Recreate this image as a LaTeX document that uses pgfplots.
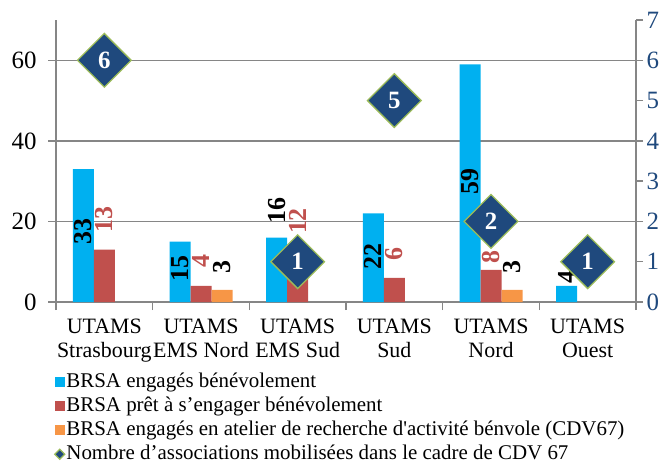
\documentclass[border=0pt]{standalone}
\usepackage{fontspec}
\setmainfont{Liberation Serif}
\usepackage{pgfplots}
\usepackage{pgfplotstable}
\pgfplotsset{compat=1.18}
\pgfplotsset{/pgf/number format/assume math mode=true}

\definecolor{BarBlue}{RGB}{0,176,240}
\definecolor{BarRed}{RGB}{192,80,77}
\definecolor{BarOrange}{RGB}{247,150,70}
\definecolor{NavyD}{RGB}{31,73,125}
\definecolor{OliveG}{RGB}{155,187,89}
\definecolor{AxisGray}{RGB}{134,134,134}

% dy = where the value label sits, relative to the bar top (left-axis units)
\pgfplotstableread{
x y dy
0 33 -15.5
1 15 -6.6
2 16 6.7
3 22 -10.7
4 59 -29.1
5 4 2.1
}\engages
\pgfplotstableread{
x y dy
0 13 7.5
1 4 6.05
2 12 8.1
3 6 6.0
4 8 3.2
5 nan 0
}\prets
\pgfplotstableread{
x y dy
0 nan 0
1 3 5.8
2 nan 0
3 nan 0
4 3 5.6
5 nan 0
}\atelier
\pgfplotstableread{
x y
0 6
1 nan
2 1
3 5
4 2
5 1
}\assos

\pgfplotsset{
  sqleg/.style={legend image code/.code={\fill[##1] (0bp,-5bp) rectangle (10bp,5bp);}},
  barlabel/.style={
    nodes near coords,
    visualization depends on={\thisrow{dy} \as \dy},
    every node near coord/.append style={font=\bfseries\fontsize{26}{26}\selectfont,
      text=#1, anchor=center, inner sep=0pt, yshift={\dy*4.02857bp}, rotate=90}},
}

\begin{document}
\begin{tikzpicture}
\begin{axis}[
  scale only axis, width=580bp, height=282bp,
  xmin=-0.5, xmax=5.5, ymin=0, ymax=70,
  ybar, bar width=21bp,
  axis x line*=bottom, axis y line*=left,
  axis line style={AxisGray, line width=1.3bp},
  ytick={0,20,40,60},
  yticklabel={\pgfmathprintnumber{\tick}},
  ymajorgrids, grid style={AxisGray, line width=1.3bp},
  xtick={0,...,5},
  xticklabels={UTAMS\\Strasbourg, UTAMS\\EMS Nord, UTAMS\\EMS Sud, UTAMS\\Sud, UTAMS\\Nord, UTAMS\\Ouest},
  minor xtick={-0.5,0.5,...,5.5},
  major x tick style={draw=none},
  tick align=outside, major tick length=8bp, minor tick length=8bp,
  tick style={AxisGray, line width=1.3bp},
  xticklabel style={font=\fontsize{22}{25}\selectfont, align=center, yshift=-5bp},
  yticklabel style={font=\fontsize{25}{25}\selectfont, text=black, xshift=-8bp},
  legend style={at={(0,0)}, anchor=north west, xshift=-2bp, yshift=-69bp,
    draw=none, fill=none, font=\fontsize{21}{24}\selectfont, row sep=2bp,
    inner sep=0pt, nodes={inner sep=1bp, text height=15bp, text depth=5bp}},
  legend cell align=left,
]
\addplot[fill=BarBlue, draw=none, bar shift=-21bp, barlabel=black, sqleg] table[x=x,y=y] {\engages};
\addlegendentry{BRSA engagés bénévolement}
\addplot[fill=BarRed, draw=none, bar shift=0bp, barlabel=BarRed, sqleg] table[x=x,y=y] {\prets};
\addlegendentry{BRSA prêt à s’engager bénévolement}
\addplot[fill=BarOrange, draw=none, bar shift=21bp, barlabel=black, sqleg] table[x=x,y=y] {\atelier};
\addlegendentry{BRSA engagés en atelier de recherche d\textquotesingle activité bénvole (CDV67)}
\addlegendimage{legend image code/.code={\draw[fill=NavyD, draw=OliveG, line width=1.2bp]
  (0bp,0bp) -- (5bp,5bp) -- (10bp,0bp) -- (5bp,-5bp) -- cycle;}}
\addlegendentry{Nombre d’associations mobilisées dans le cadre de CDV 67}
\end{axis}

\begin{axis}[
  scale only axis, width=580bp, height=282bp,
  xmin=-0.5, xmax=5.5, ymin=0, ymax=7,
  hide x axis, axis y line*=right,
  axis line style={AxisGray, line width=1.3bp},
  ytick={0,...,7},
  yticklabel={\pgfmathprintnumber{\tick}},
  tick align=outside, major tick length=7bp,
  tick style={AxisGray, line width=1.3bp},
  yticklabel style={font=\fontsize{25}{25}\selectfont, text=NavyD},
]
\addplot[only marks, mark=square*, mark size=19bp,
  mark options={rotate=45, fill=NavyD, draw=OliveG, line width=1.3bp},
  nodes near coords, point meta=y,
  every node near coord/.append style={anchor=center, inner sep=0pt,
    font=\bfseries\fontsize{25}{25}\selectfont, text=white}]
  table[x=x,y=y] {\assos};
\coordinate (O) at (rel axis cs:0,0);
\end{axis}
\pgfresetboundingbox
\useasboundingbox (O) ++(-56bp,-162bp) rectangle ++(669bp,464bp);
\end{tikzpicture}
\end{document}
